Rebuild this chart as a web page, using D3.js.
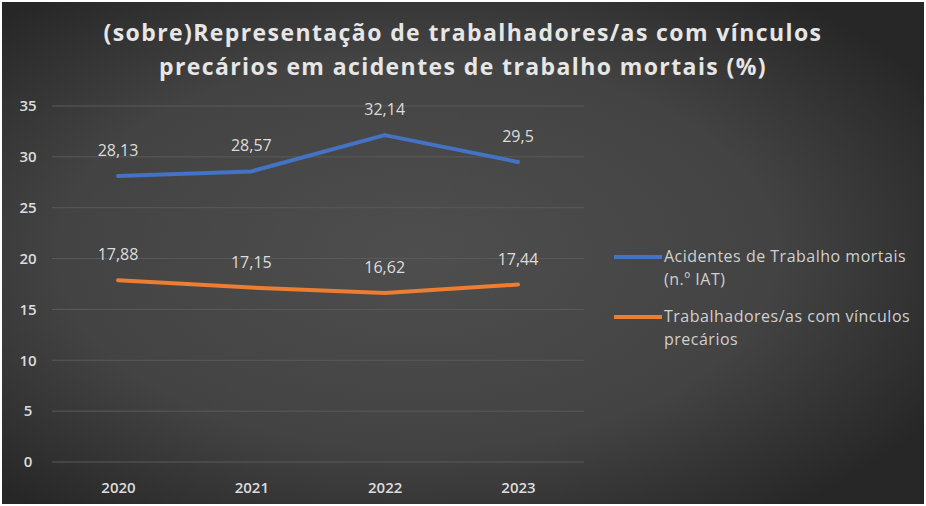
<!DOCTYPE html>
<html lang="pt">
    <head>
        <meta charset="utf-8">
        <title>(sobre)Representação</title>
        <script src="https://d3js.org/d3.v7.min.js"></script>
        <style type="text/css">
            body { margin: 0; background: #ffffff; }
            text { font-family: "Open Sans", "Noto Sans", sans-serif; }
            .axis path, .axis line { stroke: none; }
            .axis text { fill: #dcdcdc; font-size: 15px; font-weight: 600; }
        </style>
    </head>
    <body>
        <div id="chart"></div>
        <script type="text/javascript">

        //DATA
            const years = ["2020", "2021", "2022", "2023"];
            const acidentes = [28.13, 28.57, 32.14, 29.5];
            const precarios = [17.88, 17.15, 16.62, 17.44];
            const yTicks = [0, 5, 10, 15, 20, 25, 30, 35];
            const titleLines = ["(sobre)Representação de trabalhadores/as com vínculos",
                                "precários em acidentes de trabalho mortais (%)"];
            const seriesNames = [["Acidentes de Trabalho mortais", "(n.º IAT)"],
                                 ["Trabalhadores/as com vínculos", "precários"]];
            const colors = ["#4472c4", "#ed7d31"];

        //CONSTANTS
            const w = 926;
            const h = 506;

            const svg = d3.select("#chart")
                    .append("svg")
                    .attr("width", w)
                    .attr("height", h);

            //BACKGROUND
            const grad = svg.append("defs").append("radialGradient")
                    .attr("id", "bg")
                    .attr("cx", "45%").attr("cy", "50%").attr("r", "65%");
            grad.append("stop").attr("offset", "0%").attr("stop-color", "#4e4e4e");
            grad.append("stop").attr("offset", "60%").attr("stop-color", "#434343");
            grad.append("stop").attr("offset", "100%").attr("stop-color", "#272727");

            svg.append("rect")
                .attr("x", 2).attr("y", 2)
                .attr("width", w - 4).attr("height", h - 4)
                .attr("fill", "url(#bg)");

            //TITLE
            svg.append("g").selectAll("text")
                .data(titleLines)
                .enter()
                .append("text")
                .attr("x", 463)
                .attr("y", (d, i) => 41 + i * 34)
                .attr("text-anchor", "middle")
                .attr("fill", "#e6e6e6")
                .attr("font-size", "23px")
                .attr("font-weight", "bold")
                .attr("letter-spacing", "1.4px")
                .text(d => d);

            //SCALES
            const xScale = d3.scalePoint()
                    .domain(years)
                    .range([118, 518]);

            const yScale = d3.scaleLinear()
                    .domain([0, 35])
                    .range([462, 106]);

            //GRIDLINES
            svg.append("g").selectAll("line")
                .data(yTicks)
                .enter()
                .append("line")
                .attr("x1", 52).attr("x2", 584)
                .attr("y1", d => yScale(d)).attr("y2", d => yScale(d))
                .attr("stroke", "#5a5a5a")
                .attr("stroke-width", 1);

            //AXES
            const leftAxis = d3.axisLeft(yScale).tickValues(yTicks).tickSize(0).tickPadding(0);
            svg.append("g")
                .attr("class", "axis")
                .attr("transform", "translate(36,0)")
                .call(leftAxis)
                .selectAll("text").attr("text-anchor", "middle").attr("dx", "-8");

            const bottomAxis = d3.axisBottom(xScale).tickSize(0).tickPadding(0);
            svg.append("g")
                .attr("class", "axis")
                .attr("transform", "translate(0,482)")
                .call(bottomAxis);

            //LINES
            const series = [acidentes, precarios];
            const line = d3.line()
                    .x((d, i) => xScale(years[i]))
                    .y(d => yScale(d));

            series.forEach((s, k) => {
                svg.append("path")
                    .datum(s)
                    .attr("d", line)
                    .attr("fill", "none")
                    .attr("stroke", colors[k])
                    .attr("stroke-width", 4)
                    .attr("stroke-linecap", "round")
                    .attr("stroke-linejoin", "round");

                svg.append("g").selectAll("text")
                    .data(s)
                    .enter()
                    .append("text")
                    .attr("x", (d, i) => xScale(years[i]))
                    .attr("y", d => yScale(d) - 20)
                    .attr("text-anchor", "middle")
                    .attr("fill", "#dcdcdc")
                    .attr("font-size", "16px")
                    .text(d => String(d).replace(".", ","));
            });

            //LEGEND
            const legend = svg.append("g");
            seriesNames.forEach((names, k) => {
                const ly = 257 + k * 60;
                legend.append("line")
                    .attr("x1", 614).attr("x2", 662)
                    .attr("y1", ly).attr("y2", ly)
                    .attr("stroke", colors[k])
                    .attr("stroke-width", 4);
                legend.append("text")
                    .attr("x", 664)
                    .attr("y", ly + 5)
                    .attr("fill", "#d0d0d0")
                    .attr("font-size", "16px")
                    .attr("letter-spacing", "0.5px")
                    .selectAll("tspan")
                    .data(names)
                    .enter()
                    .append("tspan")
                    .attr("x", 664)
                    .attr("dy", (d, i) => i === 0 ? 0 : 23)
                    .text(d => d);
            });
        </script>
    </body>
</html>
